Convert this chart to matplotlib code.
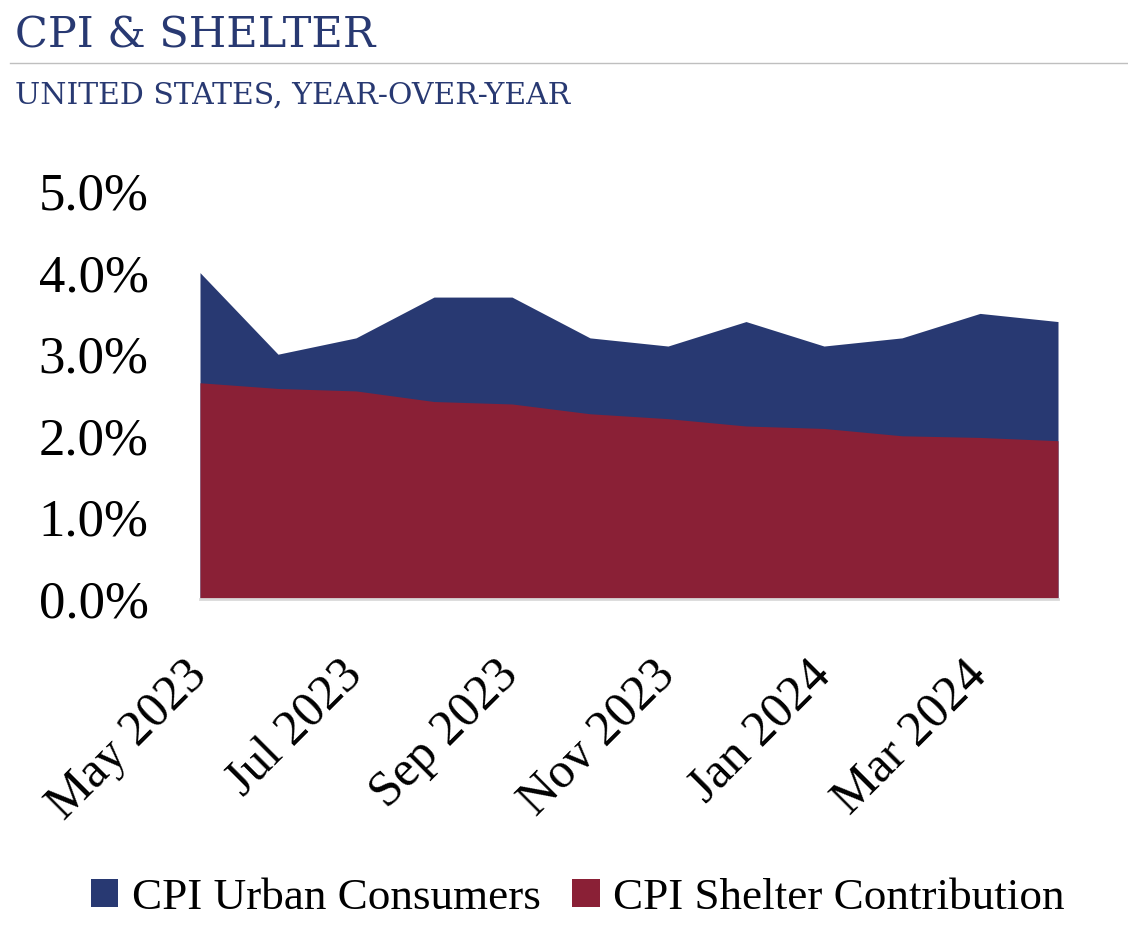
import matplotlib.pyplot as plt
import matplotlib.transforms as mtransforms
import numpy as np

months = ["May 2023", "Jun 2023", "Jul 2023", "Aug 2023", "Sep 2023", "Oct 2023",
          "Nov 2023", "Dec 2023", "Jan 2024", "Feb 2024", "Mar 2024", "Apr 2024"]
cpi_urban = [4.0, 3.0, 3.2, 3.7, 3.7, 3.2, 3.1, 3.4, 3.1, 3.2, 3.5, 3.4]
shelter = [2.65, 2.58, 2.55, 2.42, 2.39, 2.27, 2.21, 2.12, 2.09, 2.00, 1.98, 1.94]

navy = "#283972"
maroon = "#8a2036"
serif = ["Liberation Serif", "DejaVu Serif"]
head = ["DejaVu Serif"]

fig = plt.figure(figsize=(11.28, 9.30), dpi=100)
ax = fig.add_axes([200 / 1128, 1 - 599 / 930, 858 / 1128, 408 / 930])

x = np.arange(len(months))
ax.fill_between(x, 0, cpi_urban, color=navy, lw=0, label="CPI Urban Consumers")
ax.fill_between(x, 0, shelter, color=maroon, lw=0, label="CPI Shelter Contribution")

ax.set_xlim(0, len(months) - 1)
ax.set_ylim(0, 5.0)
ax.set_yticks(np.arange(0, 5.01, 1.0))
ax.set_yticklabels([f"{v:.1f}%" for v in np.arange(0, 5.01, 1.0)],
                   fontsize=38, family=serif)
ax.set_xticks(x[::2])
ax.set_xticklabels(months[::2], rotation=45, ha="right", va="top",
                   fontsize=36, family=serif)
ax.tick_params(axis="y", length=0, pad=37)
ax.tick_params(axis="x", length=0, pad=38)
shift = mtransforms.ScaledTranslation(16 / 100, 0, fig.dpi_scale_trans)
for lbl in ax.get_xticklabels():
    lbl.set_transform(lbl.get_transform() + shift)

for s in ["top", "right", "left"]:
    ax.spines[s].set_visible(False)
ax.spines["bottom"].set_color("#d9d9d9")
ax.spines["bottom"].set_linewidth(2)

# header
fig.text(15 / 1128, 1 - 35 / 930, "CPI & SHELTER", fontsize=31, color=navy,
         family=head, va="center", ha="left")
fig.add_artist(plt.Line2D([10 / 1128, 1], [1 - 63 / 930] * 2,
                          color="#bfbfbf", lw=1))
fig.text(15 / 1128, 1 - 96 / 930, "UNITED STATES, YEAR-OVER-YEAR", fontsize=21.5,
         color=navy, family=head, va="center", ha="left")

fig.legend(loc="center", bbox_to_anchor=(578 / 1128, 1 - 898 / 930), ncol=2,
           frameon=False, prop={"family": serif, "size": 32.5},
           handlelength=0.6, handleheight=0.6, handletextpad=0.3,
           columnspacing=0.7)

fig.savefig("out.png", dpi=100)
